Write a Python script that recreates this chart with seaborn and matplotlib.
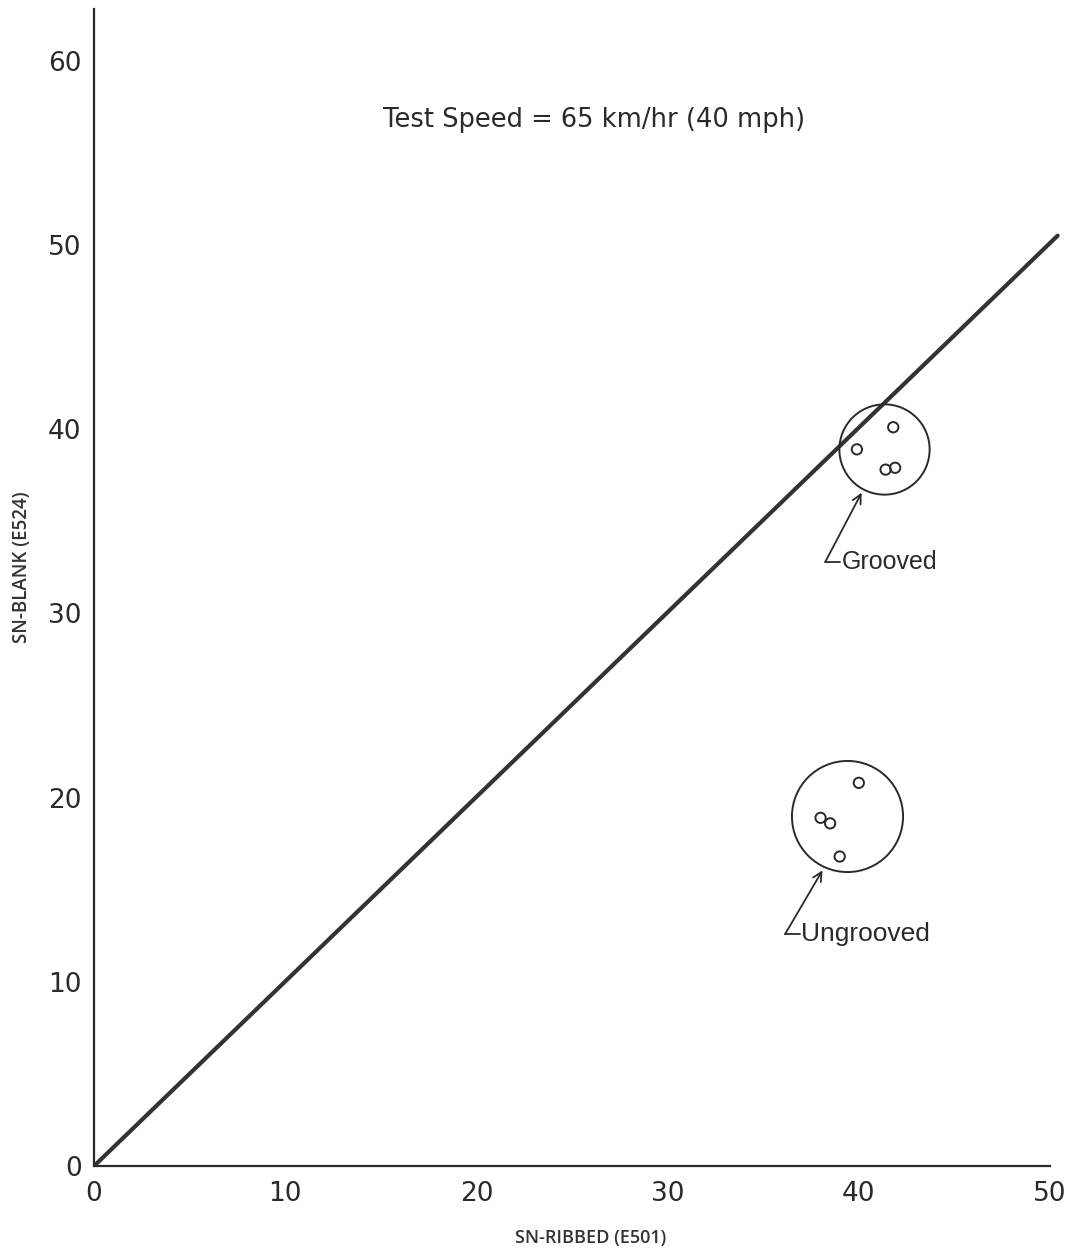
import matplotlib
matplotlib.use("Agg")
import matplotlib.pyplot as plt
import seaborn as sns
import pandas as pd

# Equality line SN-blank = SN-ribbed
line_x = [0.0, 50.4]
line_y = [0.0, 50.5]

# Skid numbers, ribbed tyre (E501) vs blank tyre (E524)
grooved_ribbed = [39.9, 41.8, 41.4, 41.9]
grooved_blank = [38.9, 40.1, 37.8, 37.9]
ungrooved_ribbed = [40.0, 38.0, 38.5, 39.0]
ungrooved_blank = [20.8, 18.9, 18.6, 16.8]

# Rings drawn around each group of results
group_names = ["Grooved", "Ungrooved"]
ring_x = [41.3, 39.4]
ring_y = [38.9, 19.0]

x_ticks = [0, 10, 20, 30, 40, 50]
y_ticks = [0, 10, 20, 30, 40, 50, 60]

title_text = "Test Speed = 65 km/hr (40 mph)"
x_label = "SN-RIBBED (E501)"
y_label = "SN-BLANK (E524)"

sns.set_theme(style="white")
plt.rcParams["font.family"] = ["DejaVu Sans"]

ink = "#2a2a2a"

fig = plt.figure(figsize=(10.77, 12.51), dpi=100)
ax = fig.add_axes([0.0873, 0.0679, 0.8983, 0.9249])

df_line = pd.DataFrame({"x": line_x, "y": line_y})
sns.lineplot(data=df_line, x="x", y="y", ax=ax, color="#333333", lw=3.0,
             solid_capstyle="round")

pts = pd.DataFrame({
    "ribbed": grooved_ribbed + ungrooved_ribbed,
    "blank": grooved_blank + ungrooved_blank,
    "surface": ["Grooved"] * 4 + ["Ungrooved"] * 4,
})
sns.scatterplot(data=pts, x="ribbed", y="blank", ax=ax, marker="o", s=55,
                facecolor="none", edgecolor=ink, linewidth=1.4, legend=False,
                zorder=4)

# ring size (points), arrow corner and arrow tip offsets from ring centre
ring_style = [
    (65, (-3.05, -6.1), (-1.15, -2.35), 18),
    (80, (-3.25, -6.4), (-1.3, -2.95), 19),
]
for name, cx, cy, (ring, corner_off, tip_off, fs) in zip(
        group_names, ring_x, ring_y, ring_style):
    ax.plot([cx], [cy], marker="o", ms=ring, mfc="none", mec=ink, mew=1.4,
            zorder=3)
    kx, ky = cx + corner_off[0], cy + corner_off[1]
    tx, ty = cx + tip_off[0], cy + tip_off[1]
    ax.annotate("", xy=(tx, ty), xytext=(kx, ky),
                arrowprops=dict(arrowstyle="->", color=ink, lw=1.3,
                                shrinkA=0, shrinkB=0, mutation_scale=16))
    ax.plot([kx, kx + 0.75], [ky, ky], color=ink, lw=1.3)
    ax.text(kx + 0.85, ky, name, ha="left", va="center", fontsize=fs,
            color=ink, family=["Liberation Sans", "DejaVu Sans"])

ax.text(26.15, 56.75, title_text, ha="center", va="center", fontsize=18.5,
        color=ink)

ax.set_xlim(0, 50.6)
ax.set_ylim(0, 62.8)
ax.set_xticks(x_ticks)
ax.set_yticks(y_ticks)
ax.set_xticklabels([str(t) for t in x_ticks])
ax.set_yticklabels([str(t) for t in y_ticks])
ax.tick_params(axis="both", direction="out", length=7, width=1.5,
               color=ink, labelcolor=ink, labelsize=19)
ax.tick_params(axis="y", pad=2)
ax.tick_params(axis="x", pad=4)
ax.set_xlabel("")
ax.set_ylabel("")

for side in ("top", "right"):
    ax.spines[side].set_visible(False)
for side in ("left", "bottom"):
    ax.spines[side].set_color(ink)
    ax.spines[side].set_linewidth(1.6)
ax.spines["bottom"].set_bounds(0, 50)

fig.text(591 / 1077, 1 - 1238 / 1251, x_label, ha="center", va="center",
         fontsize=13, color="#333333", fontweight="semibold",
         family=["Open Sans", "DejaVu Sans"])
fig.text(22 / 1077, 1 - 567 / 1251, y_label, ha="center", va="center",
         rotation=90, fontsize=13.5, color="#333333", fontweight="semibold",
         family=["Open Sans", "DejaVu Sans"])

fig.savefig("out.png", dpi=100, facecolor="white")
